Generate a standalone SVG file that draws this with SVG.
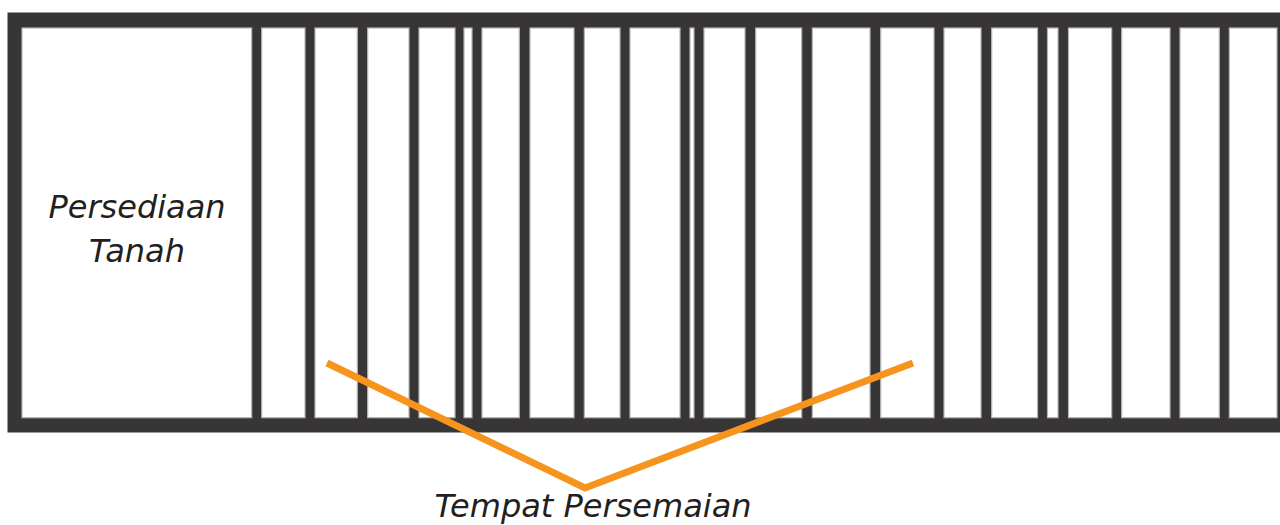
<svg xmlns="http://www.w3.org/2000/svg" width="1280" height="525" viewBox="0 0 1280 525">
  <style>
    .frame { fill: #373536; }
    .cell { fill: #ffffff; stroke: #b4b4b4; stroke-width: 1.2; }
    .label { font-family: "DejaVu Sans", "Liberation Sans", sans-serif; font-style: oblique; font-size: 32px; fill: #231f20; }
    .pointer { fill: none; stroke: #f7941d; stroke-width: 7; stroke-linejoin: miter; }
  </style>

  <!-- dark outer frame of the bed layout -->
  <g id="frame">
    <rect class="frame" x="7.5" y="12.5" width="1280" height="420"/>
  </g>

  <!-- soil storage plot -->
  <g id="persediaan-tanah">
    <rect class="cell" x="22" y="28" width="229.7" height="389.7"/>
    <text class="label" x="137" y="218" text-anchor="middle">Persediaan</text>
    <text class="label" x="137" y="262" text-anchor="middle">Tanah</text>
  </g>

  <!-- seedling beds -->
  <g id="beds">
    <rect class="cell" x="261.7" y="28" width="43.3" height="389.7"/>
    <rect class="cell" x="315" y="28" width="42.3" height="389.7"/>
    <rect class="cell" x="367.7" y="28" width="41.3" height="389.7"/>
    <rect class="cell" x="419" y="28" width="36" height="389.7"/>
    <rect class="cell" x="464" y="28" width="8" height="389.7"/>
    <rect class="cell" x="482" y="28" width="37.3" height="389.7"/>
    <rect class="cell" x="530" y="28" width="44" height="389.7"/>
    <rect class="cell" x="584.3" y="28" width="35.7" height="389.7"/>
    <rect class="cell" x="630" y="28" width="50" height="389.7"/>
    <rect class="cell" x="690" y="28" width="4" height="389.7"/>
    <rect class="cell" x="704" y="28" width="41" height="389.7"/>
    <rect class="cell" x="755.7" y="28" width="46" height="389.7"/>
    <rect class="cell" x="812.3" y="28" width="57.7" height="389.7"/>
    <rect class="cell" x="880.7" y="28" width="53.3" height="389.7"/>
    <rect class="cell" x="944" y="28" width="37" height="389.7"/>
    <rect class="cell" x="991.7" y="28" width="45.8" height="389.7"/>
    <rect class="cell" x="1047.5" y="28" width="10.5" height="389.7"/>
    <rect class="cell" x="1068.5" y="28" width="43.2" height="389.7"/>
    <rect class="cell" x="1121.7" y="28" width="48.3" height="389.7"/>
    <rect class="cell" x="1180" y="28" width="39.3" height="389.7"/>
    <rect class="cell" x="1229.3" y="28" width="47.7" height="389.7"/>
  </g>

  <!-- pointer lines to the label -->
  <g id="connectors">
    <polyline class="pointer" points="327,363 585,488 913,363"/>
  </g>

  <g id="tempat-persemaian">
    <text class="label" x="593" y="517" text-anchor="middle">Tempat Persemaian</text>
  </g>
</svg>
